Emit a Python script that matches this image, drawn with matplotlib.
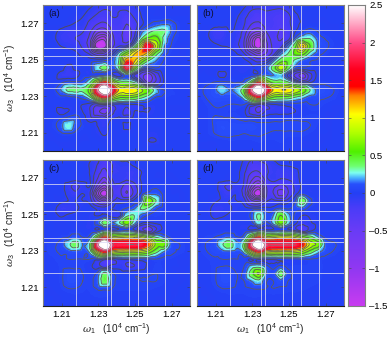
import numpy as np
import matplotlib
matplotlib.use('Agg')
import matplotlib.pyplot as plt
import matplotlib.tri as mtri
from matplotlib.colors import LinearSegmentedColormap

plt.rcParams['font.family'] = ['Liberation Sans', 'DejaVu Sans']
plt.rcParams['mathtext.fontset'] = 'custom'
plt.rcParams['mathtext.rm'] = 'Liberation Sans'
plt.rcParams['mathtext.it'] = 'DejaVu Serif:italic'

# node positions (1e4 cm^-1)
w1 = [1.1975, 1.2015, 1.2055, 1.2095, 1.2135, 1.2175, 1.2215, 1.2255, 1.2295, 1.2335, 1.2375,
      1.2415, 1.2455, 1.2495, 1.2535, 1.2575, 1.2615, 1.2655, 1.2695, 1.2735, 1.2775, 1.2815]
w3 = w1[::-1]

# white lines
lines = [1.2181, 1.2347, 1.2371, 1.2469, 1.2518, 1.2567, 1.2665]

panel_a = [
 [0,0,0,0,0,0,0,0,-.03,-.05,-.05,-.05,-.05,-.03,0,0,0,0,0,0,0,0],
 [0,0,0,0,0,0,-.02,-.06,-.12,-.15,-.14,-.14,-.14,-.1,-.03,0,0,0,0,0,0,0],
 [0,0,0,0,0,-.03,-.05,-.12,-.18,-.2,-.15,-.16,-.22,-.14,-.05,0,0,0,0,0,0,0],
 [0,0,0,0,-.03,-.06,-.08,-.2,-.3,-.35,-.2,-.18,-.3,-.2,-.08,.04,.1,.14,.12,.03,0,0],
 [0,0,-.02,-.08,-.12,-.12,-.14,-.28,-.6,-.65,-.28,-.2,-.42,-.2,.1,.25,.34,.34,.15,.03,0,0],
 [0,0,-.03,-.1,-.12,-.15,-.2,-.4,-1.1,-1.2,-.4,-.2,-.42,-.12,.3,.6,.6,.28,.08,.02,0,0],
 [0,0,0,-.05,-.08,-.1,-.18,-.45,-1.5,-1.45,-.4,-.15,-.12,.2,.9,1.75,.85,.2,.05,0,0,0],
 [0,0,0,0,0,-.03,-.1,-.2,-.5,-.45,-.1,.2,.6,1.05,1.25,.95,.4,.12,.02,0,0,0],
 [0,0,0,0,0,0,0,0,.02,.05,.1,.35,1.3,1.15,.65,.3,.15,.05,0,0,0,0],
 [0,0,0,0,-.1,-.02,0,.02,.25,.4,.1,.35,1.8,.65,.1,0,.05,.02,0,0,0,0],
 [0,0,0,-.1,-.12,-.1,0,0,0,.05,0,-.1,.1,-.15,-.4,-.6,-.25,-.03,0,0,0,0],
 [0,0,0,.03,.1,.08,.1,.3,.9,1.5,.9,.45,.4,.3,-.05,-.5,-.25,-.05,0,0,0,0],
 [0,0,.02,.15,.34,.36,.34,.65,2.0,3.3,1.9,1.05,1.1,1.05,.75,.5,.2,.05,.03,0,0,0],
 [0,0,0,.03,.02,.05,.1,.3,1.0,1.5,.9,.55,.55,.5,.35,.2,.05,.03,.02,.02,0,0],
 [0,0,0,0,-.02,0,-.05,-.1,-.2,-.15,-.1,-.08,-.05,-.05,-.03,-.02,-.02,0,0,0,0,0],
 [0,0,0,-.1,-.05,0,-.05,-.15,-.45,-.6,-.2,-.08,-.22,-.05,-.05,-.05,-.02,0,0,0,0,0],
 [0,0,.02,.05,.1,.12,0,-.1,-.1,-.12,-.05,-.03,-.03,-.02,0,0,0,0,0,0,0,0],
 [0,0,.03,.1,.28,.1,.03,0,-.05,-.08,0,0,-.08,0,0,0,0,0,0,0,0,0],
 [0,0,0,.03,.05,.02,0,0,-.03,-.06,-.02,0,0,0,0,-.03,-.03,0,0,0,0,0],
 [0,0,0,0,0,0,0,0,0,-.02,-.03,0,0,0,0,-.05,-.05,0,0,0,0,0],
 [0,0,0,0,0,0,0,0,0,0,-.03,0,0,0,0,-.02,0,0,0,0,0,0],
 [0,0,0,0,0,0,0,0,0,0,0,0,0,0,0,0,0,0,0,0,0,0],
]

panel_b = [
 [0,0,0,0,0,0,0,0,-.02,-.03,-.05,-.06,-.05,-.03,0,0,0,0,0,0,0,0],
 [0,0,0,0,0,0,0,-.06,-.14,-.16,-.14,-.15,-.16,-.12,-.03,0,0,0,0,0,0,0],
 [0,0,0,0,0,0,-.04,-.12,-.2,-.25,-.18,-.2,-.22,-.18,-.08,-.02,0,0,0,0,0,0],
 [0,0,0,0,0,-.02,-.06,-.14,-.3,-.35,-.2,-.2,-.25,-.18,-.08,-.03,0,0,0,0,0,0],
 [0,0,-.03,-.12,-.12,-.05,-.08,-.2,-.55,-.7,-.3,-.22,-.32,-.22,-.05,.05,.1,.05,0,0,0,0],
 [0,0,-.03,-.1,-.1,-.05,-.1,-.28,-.95,-1.4,-.5,-.25,-.32,-.2,.1,.3,.3,.12,.05,.02,0,0],
 [0,0,0,-.02,-.05,-.06,-.12,-.3,-1.0,-1.5,-.6,-.25,-.2,.1,.45,1.15,.5,.15,.08,.03,0,0],
 [0,0,0,0,0,0,-.05,-.15,-.45,-.7,-.5,-.22,.1,.3,.55,.6,.25,.1,.04,0,0,0],
 [0,0,0,0,0,0,0,-.03,-.1,-.2,-.15,.1,.4,.45,.25,.12,.06,.04,0,0,0,0],
 [0,0,0,0,0,0,-.03,-.05,-.03,.03,.1,.4,.85,.38,.08,.03,.03,0,0,0,0,0],
 [0,0,0,-.02,-.08,-.02,0,0,0,.05,.15,.15,.2,-.08,-.35,-.6,-.2,-.03,0,0,0,0],
 [0,0,.03,.06,.08,.06,.05,.1,.5,1.4,.8,.45,.45,.35,.1,-.1,-.05,.02,.03,0,0,0],
 [0,.03,.08,.12,.25,.15,.2,.5,2.0,3.3,1.95,1.08,1.1,1.08,.85,.65,.3,.12,.1,.06,.02,0],
 [0,.02,.06,.1,.1,.1,.1,.25,.9,1.4,.8,.5,.45,.42,.3,.2,.1,.08,.06,.04,.01,0],
 [0,0,.03,.06,.06,.05,.05,.05,-.05,-.15,-.1,-.05,-.03,0,.02,.02,.05,.05,.02,0,0,0],
 [0,0,.02,.04,.04,.02,.02,-.03,-.2,-.32,-.12,-.08,-.08,-.08,-.05,0,.02,.02,0,0,0,0],
 [0,0,.02,.06,.06,.06,.05,.03,.02,.0,.02,.03,.03,.04,.04,.04,.04,.03,0,0,0,0],
 [0,0,.02,.06,.1,.08,.08,.08,.08,.07,.06,.06,.06,.06,.06,.06,.05,.02,0,0,0,0],
 [0,0,.02,.05,.08,.08,.06,.05,.06,.06,.05,.04,.04,.04,.04,.04,.02,0,0,0,0,0],
 [0,0,0,0,.01,.02,.02,.02,.02,.03,.02,.02,.03,0,0,0,0,0,0,0,0,0],
 [0,0,0,0,0,0,0,0,0,0,0,0,0,0,0,0,0,0,0,0,0,0],
 [0,0,0,0,0,0,0,0,0,0,0,0,0,0,0,0,0,0,0,0,0,0],
]

panel_c = [
 [0,0,0,0,0,0,0,-.02,-.1,-.15,-.06,-.03,-.02,0,0,0,0,0,0,0,0,0],
 [0,0,0,0,0,0,0,-.06,-.15,-.25,-.15,-.07,-.07,-.03,0,0,0,0,0,0,0,0],
 [0,0,0,0,0,0,0,-.06,-.2,-.35,-.15,-.1,-.1,-.1,-.05,0,0,0,0,0,0,0],
 [0,0,0,0,0,-.02,-.02,-.05,-.3,-.55,-.15,-.08,-.12,-.1,-.04,0,0,0,0,0,0,0],
 [0,0,0,0,-.1,-.2,-.1,-.05,-.55,-.95,-.25,-.2,-.4,-.2,-.05,0,.03,.03,0,0,0,0],
 [0,0,0,0,-.08,-.12,-.05,-.15,-1.0,-1.5,-.35,-.25,-.5,-.25,-.02,.1,.12,.03,0,0,0,0],
 [0,0,0,-.03,-.05,-.05,-.05,-.1,-.45,-.7,-.2,-.1,-.1,-.02,.1,.7,.3,.03,.01,0,0,0],
 [0,0,-.02,-.1,-.1,-.08,-.02,0,-.08,-.1,-.05,0,.05,.12,.32,.28,.08,.02,.02,0,0,0],
 [0,0,-.02,-.06,-.04,-.02,0,-.03,-.06,-.03,-.1,-.1,.25,.3,.12,.04,.03,.02,0,0,0,0],
 [0,0,0,-.02,0,0,0,-.03,.1,.4,.15,.3,.65,.22,-.02,-.05,-.03,0,0,0,0,0],
 [0,0,0,0,0,0,0,-.02,-.05,.05,-.05,-.03,.02,-.05,-.25,-.42,-.15,-.03,0,0,0,0],
 [0,0,.01,.03,.05,.12,.05,.1,.6,1.4,.85,.85,.9,.9,.8,.55,.3,.15,.02,0,0,0],
 [0,.02,.04,.08,.25,.4,.15,.35,2.0,3.3,1.9,1.8,1.8,1.8,1.75,1.3,.65,.62,.12,.06,.02,0],
 [0,.02,.04,.06,.08,.1,.08,.2,.95,1.45,.95,.8,.8,.8,.75,.6,.35,.15,.08,.04,.02,0],
 [0,0,.02,.04,.05,.05,.05,.05,0,-.1,-.12,-.05,-.03,0,.02,.04,.05,.03,.02,0,0,0],
 [0,0,.01,.03,.04,.03,.03,-.03,-.1,-.2,-.1,-.08,-.15,-.15,-.1,-.02,.03,.02,0,0,0,0],
 [0,0,.01,.03,.1,.1,.05,.03,.08,.36,.08,.02,.02,.03,.03,.04,.05,.03,.01,0,0,0],
 [0,0,.01,.03,.1,.1,.05,.03,.12,.42,.1,.03,.04,.04,.05,.05,.05,.03,.01,0,0,0],
 [0,0,0,.02,.05,.05,.03,.03,.06,.08,.05,.03,.03,.03,.03,.03,.02,.01,0,0,0,0],
 [0,0,0,0,.01,.02,.02,.02,.03,.03,.02,.01,.01,.01,.01,.01,0,0,0,0,0,0],
 [0,0,0,0,0,0,0,0,0,0,0,0,0,0,0,0,0,0,0,0,0,0],
 [0,0,0,0,0,0,0,0,0,0,0,0,0,0,0,0,0,0,0,0,0,0],
]

panel_d = [
 [0,0,0,0,0,0,0,-.03,-.1,-.1,-.05,-.02,0,0,0,0,0,0,0,0,0,0],
 [0,0,0,0,0,0,0,-.08,-.2,-.2,-.15,-.08,-.04,-.03,-.01,0,0,0,0,0,0,0],
 [0,0,0,0,0,0,-.02,-.12,-.28,-.3,-.18,-.1,-.12,-.12,-.08,0,0,0,0,0,0,0],
 [0,0,0,0,0,-.02,-.02,-.15,-.45,-.6,-.2,-.1,-.15,-.14,-.1,-.01,0,0,0,0,0,0],
 [0,0,0,0,-.12,-.18,-.08,-.18,-.7,-1.05,-.3,-.25,-.35,-.25,-.12,-.03,-.02,0,0,0,0,0],
 [0,0,0,0,-.08,-.12,-.06,-.22,-1.05,-1.5,-.35,-.3,-.6,-.3,-.1,.02,-.02,-.02,0,0,0,0],
 [0,0,0,-.04,-.06,-.05,-.05,-.1,-.45,-.55,-.2,-.12,-.14,-.1,.05,.42,.08,-.03,-.02,0,0,0],
 [0,0,-.02,-.08,-.08,-.06,-.03,-.02,-.05,-.04,-.03,-.02,.05,.03,.08,.12,.02,0,0,0,0,0],
 [0,0,-.02,-.08,-.06,-.04,-.02,-.02,.08,.34,.1,.15,.5,.2,.02,-.05,-.04,-.02,0,0,0,0],
 [0,0,0,-.02,-.02,0,0,-.02,.02,.26,.04,.2,.62,.22,-.02,-.1,-.06,-.02,0,0,0,0],
 [0,0,0,0,0,0,0,-.02,-.05,.0,-.03,-.03,.01,-.03,-.1,-.25,-.1,-.02,0,0,0,0],
 [0,.01,.03,.05,.1,.15,.06,.12,.7,1.4,.85,.85,.95,.95,.85,.6,.4,.18,.03,0,0,0],
 [0,.02,.06,.1,.28,.42,.18,.4,2.0,3.3,1.95,1.85,1.85,1.85,1.8,1.45,.85,.65,.15,.08,.03,0],
 [0,.02,.05,.08,.1,.12,.1,.2,.85,1.4,.95,.85,.85,.85,.8,.65,.4,.2,.1,.05,.02,0],
 [0,0,.02,.04,.05,.05,.05,.03,-.05,-.03,-.03,-.03,0,.02,.03,.05,.05,.04,.02,.01,0,0],
 [0,0,.01,.04,.05,.05,.03,.05,.2,.25,.1,.02,.08,.03,.03,.03,.04,.04,.02,.01,0,0],
 [0,0,.01,.04,.1,.1,.05,.08,.4,.72,.15,.08,.4,.08,.04,.04,.04,.03,.02,0,0,0],
 [0,0,.01,.04,.1,.1,.05,.05,.15,.25,.06,.05,.1,.05,.04,.04,.04,.03,.01,0,0,0],
 [0,0,0,.02,.05,.05,.04,.04,.05,.06,.05,.05,.04,.04,.04,.03,.02,.01,0,0,0,0],
 [0,0,0,0,.01,.02,.02,.02,.03,.03,.02,.02,.02,.01,.01,.01,0,0,0,0,0,0],
 [0,0,0,0,0,0,0,0,0,0,0,0,0,0,0,0,0,0,0,0,0,0],
 [0,0,0,0,0,0,0,0,0,0,0,0,0,0,0,0,0,0,0,0,0,0],
]

panels = [panel_a, panel_b, panel_c, panel_d]
names = ['(a)', '(b)', '(c)', '(d)']
ticks = [1.21, 1.23, 1.25, 1.27]

zmin, zmax = -1.5, 2.5
stops = [(-1.5, '#c83cf0'), (-1.0, '#9038f2'), (-0.5, '#6a3cf6'), (-0.2, '#4a3cf8'), (0.0, '#2440f5'),
         (0.12, '#2850fc'), (0.2, '#48b0ff'), (0.27, '#7dfff0'), (0.36, '#70ff70'), (0.55, '#50f000'),
         (0.8, '#b0ff00'), (1.05, '#ffff00'), (1.3, '#ff8000'), (1.42, '#ff0000'), (1.65, '#ff0020'),
         (2.0, '#ff4a86'), (2.5, '#ffffff')]
cm = LinearSegmentedColormap.from_list('spec', [((v - zmin) / (zmax - zmin), c) for v, c in stops], N=512)

fig = plt.figure(figsize=(3.87, 3.38), dpi=100)
W, H = 387.0, 338.0
pos = [(43.3, 5), (197.3, 5), (43.3, 159.7), (197.3, 159.7)]

xx, yy = np.meshgrid(w1, w3)
tri = mtri.Triangulation(xx.ravel(), yy.ravel())
fill = np.linspace(zmin, zmax, 161)
neg = [-1.3, -1.1, -0.9, -0.7, -0.5, -0.3, -0.15, -0.05]
low = [0.05, 0.15, 0.3, 0.5, 0.7, 0.9, 1.1]
high = [1.4, 1.8, 2.2]

for n, p in enumerate(panels):
    x0, y0 = pos[n]
    ax = fig.add_axes([x0 / W, 1 - (y0 + 146) / H, 146.7 / W, 146 / H])
    z = np.array(p, dtype=float).ravel()
    ref = mtri.UniformTriRefiner(tri)
    tr, zr = ref.refine_field(z, mtri.CubicTriInterpolator(tri, z, kind='geom'), subdiv=3)
    ax.tricontourf(tr, np.clip(zr, zmin, zmax), levels=fill, cmap=cm, vmin=zmin, vmax=zmax)
    ax.tricontour(tr, zr, levels=neg, colors='#4c4c60', linewidths=0.7, linestyles='-')
    ax.tricontour(tr, zr, levels=low, colors='#5c5c5c', linewidths=0.6, linestyles='-')
    ax.tricontour(tr, zr, levels=high, colors='#806a70', linewidths=0.4, linestyles='-')
    for v in lines:
        ax.axvline(v, color='#dcdcf4', lw=0.7, alpha=0.8)
        ax.axhline(v, color='#dcdcf4', lw=0.7, alpha=0.8)
    ax.set_xlim(1.20, 1.28)
    ax.set_ylim(1.20, 1.28)
    ax.set_xticks(ticks)
    ax.set_yticks(ticks)
    ax.tick_params(direction='in', length=2, width=0.4, color='#444444', labelsize=6.8, pad=3,
                   labelbottom=n >= 2, labelleft=n % 2 == 0, top=True, right=True)
    ax.set_xticklabels(['%.2f' % t for t in ticks] if n >= 2 else [])
    ax.set_yticklabels(['%.2f' % t for t in ticks] if n % 2 == 0 else [])
    for s in ax.spines.values():
        s.set_color('#808080')
        s.set_linewidth(0.8)
    ax.spines['bottom'].set_color('#202020')
    ax.text(0.033, 0.943, names[n], transform=ax.transAxes, fontsize=6.8, color='#101030', va='center')
    if n >= 2:
        ax.set_xlabel(r'$\omega_1$   (10$^4$ cm$^{-1}$)', fontsize=7.2, labelpad=2, color='#222222')
    if n % 2 == 0:
        ax.set_ylabel(r'$\omega_3$   (10$^4$ cm$^{-1}$)', fontsize=7.2, labelpad=2, color='#222222')

cax = fig.add_axes([348.3 / W, 1 - 305.7 / H, 16.7 / W, 300.7 / H])
grad = np.linspace(zmin, zmax, 512).reshape(-1, 1)
cax.imshow(grad, origin='lower', aspect='auto', cmap=cm, vmin=zmin, vmax=zmax, extent=[0, 1, zmin, zmax])
cax.set_xticks([])
cbt = [-1.5, -1, -0.5, 0, 0.5, 1, 1.5, 2, 2.5]
cax.yaxis.tick_right()
cax.set_yticks(cbt)
cax.set_yticklabels(['\u20131.5', '\u20131', '\u20130.5', '0', '0.5', '1', '1.5', '2', '2.5'])
cax.tick_params(direction='in', length=2, width=0.4, color='#444444', labelsize=6.8, pad=3, left=True, right=True)
for s in cax.spines.values():
    s.set_color('#808080')
    s.set_linewidth(0.8)

fig.savefig('out.png', dpi=100)
